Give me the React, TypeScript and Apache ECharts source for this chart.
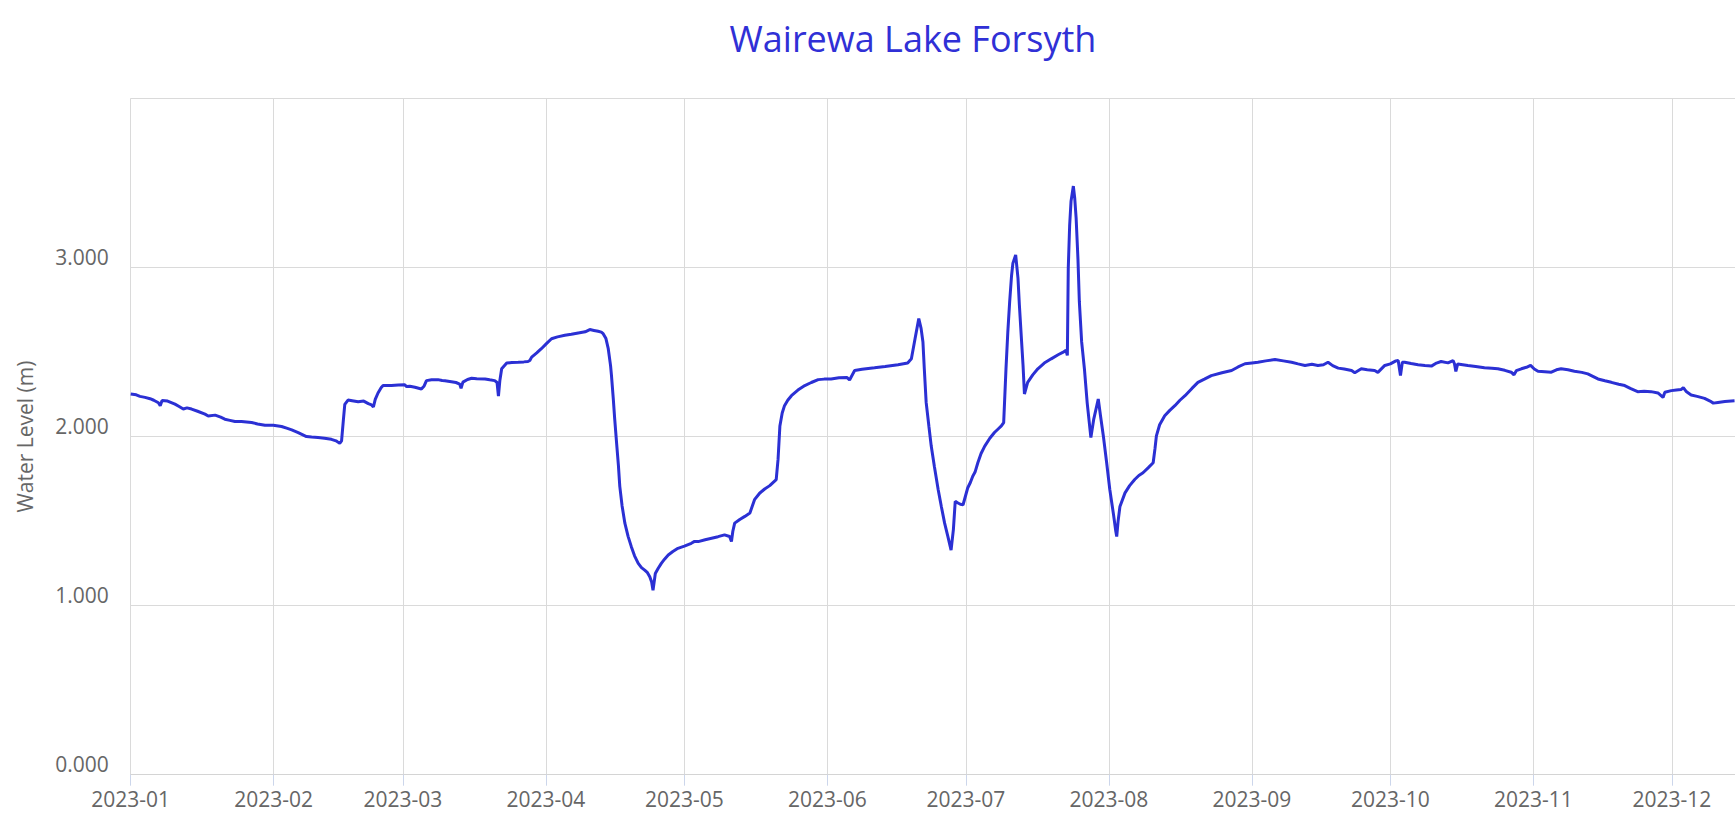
import React, { useEffect, useRef } from "react";
import * as echarts from "echarts";

// Day offsets from 2023-01-01 paired with water level (m).
const janLevels = [
  [0, 2.252], [1.2, 2.247], [2, 2.238], [3.1, 2.232], [4.2, 2.224], [5, 2.215], [6, 2.2], [6.4, 2.183],
  [6.8, 2.214], [8, 2.21], [9.6, 2.192], [10.5, 2.178], [11.4, 2.163], [12.2, 2.17], [13.2, 2.163],
  [14.5, 2.15], [16.1, 2.133], [16.8, 2.122], [18.3, 2.127], [19.5, 2.115], [20.4, 2.103], [21.5, 2.096],
  [22.6, 2.089], [24, 2.09], [26.2, 2.083], [27.5, 2.075], [29.1, 2.067], [30.9, 2.067],
];
const febLevels = [
  [32.7, 2.06], [33.8, 2.05], [34.9, 2.04], [36.3, 2.024], [37.2, 2.012], [38.1, 2.0], [39.2, 1.997],
  [40.6, 1.994], [42, 1.99], [43.5, 1.984], [44.5, 1.975], [45.3, 1.96], [45.7, 1.975], [46.1, 2.1],
  [46.4, 2.19], [47.1, 2.216], [48, 2.212], [49.3, 2.206], [50.5, 2.21], [51.5, 2.195], [52.2, 2.187],
  [52.6, 2.175], [53, 2.22], [53.6, 2.258], [54.3, 2.29], [54.7, 2.302], [56.5, 2.302], [58, 2.305],
];
const marLevels = [
  [59.4, 2.306], [59.8, 2.296], [60.5, 2.298], [61.6, 2.292], [63, 2.282], [63.6, 2.3], [64.1, 2.331],
  [65.2, 2.336], [66.6, 2.337], [67.5, 2.332], [68.1, 2.331], [69.5, 2.325], [70.5, 2.32], [71.3, 2.311],
  [71.6, 2.285], [72, 2.322], [73, 2.338], [73.9, 2.345], [75, 2.342], [76.8, 2.341], [77.8, 2.336],
  [78.9, 2.331], [79.4, 2.32], [79.7, 2.24], [80, 2.33], [80.4, 2.401], [81.5, 2.435], [82.6, 2.438],
  [84, 2.44], [85.2, 2.442], [86.1, 2.444], [86.5, 2.45], [86.9, 2.47], [88, 2.495], [89, 2.52],
];
const aprLevels = [
  [90.1, 2.55], [91.2, 2.579], [92.5, 2.59], [94.1, 2.599], [95.5, 2.605], [97, 2.613], [98.5, 2.62],
  [99.5, 2.633], [100.4, 2.628], [101.3, 2.623], [102, 2.618], [102.4, 2.609], [103, 2.58], [103.5, 2.52],
  [104, 2.42], [104.2, 2.361], [104.6, 2.22], [104.9, 2.103], [105.3, 1.964], [105.7, 1.83], [106, 1.706],
  [106.5, 1.59], [107.1, 1.488], [107.8, 1.41], [108.5, 1.349], [109.2, 1.295], [110, 1.25], [110.7, 1.225],
  [111.4, 1.21], [112, 1.195], [112.5, 1.171], [112.9, 1.14], [113.2, 1.091], [113.5, 1.15], [113.7, 1.19],
  [114.3, 1.22], [115, 1.25], [115.7, 1.275], [116.5, 1.3], [117.5, 1.32], [118.6, 1.339],
];
const mayLevels = [
  [120, 1.352], [121.5, 1.369], [122.2, 1.38], [123, 1.379], [124.5, 1.39], [125.9, 1.399], [127.3, 1.408],
  [128.7, 1.419], [129.8, 1.409], [130.2, 1.379], [130.5, 1.44], [130.9, 1.488], [132, 1.51], [133.1, 1.528],
  [134.2, 1.548], [135.2, 1.627], [136.3, 1.665], [137.4, 1.69], [138.5, 1.71], [139.9, 1.746], [140.3, 1.865],
  [140.7, 2.063], [141.2, 2.14], [141.7, 2.183], [142.4, 2.215], [143.2, 2.242], [144.6, 2.275], [146.1, 2.302],
  [147.5, 2.32], [149, 2.337], [150.3, 2.34],
];
const junLevels = [
  [151.8, 2.341], [153.5, 2.348], [155.2, 2.35], [155.8, 2.335], [156.9, 2.391], [158.5, 2.398], [161.2, 2.407],
  [163.5, 2.415], [166.3, 2.425], [168.4, 2.435], [169.2, 2.46], [170, 2.58], [170.8, 2.698], [171.3, 2.64],
  [171.7, 2.56], [172, 2.4], [172.4, 2.202], [173, 2.06], [173.5, 1.944], [174.2, 1.82], [175, 1.687],
  [175.7, 1.585], [176.4, 1.488], [177.1, 1.41], [177.8, 1.329], [178.3, 1.45], [178.7, 1.617], [179.3, 1.607],
  [179.8, 1.6], [180.4, 1.597],
];
const julLevels = [
  [181.4, 1.696], [182, 1.73], [182.5, 1.766], [183, 1.79], [183.6, 1.845], [184.3, 1.9], [185.1, 1.944],
  [186.2, 1.99], [187.2, 2.024], [188, 2.045], [188.7, 2.063], [189.2, 2.083], [189.7, 2.401], [190.1, 2.62],
  [190.5, 2.798], [190.9, 2.95], [191.2, 3.026], [191.8, 3.075], [192.3, 2.937], [192.6, 2.78], [193, 2.599],
  [193.4, 2.42], [193.7, 2.252], [194.4, 2.321], [195.5, 2.365], [196.6, 2.401], [198, 2.435], [199.5, 2.46],
  [201, 2.484], [202, 2.498], [202.7, 2.51], [203, 2.48], [203.2, 2.996], [203.5, 3.25], [203.8, 3.393],
  [204.3, 3.482], [204.6, 3.41], [204.9, 3.294], [205.3, 3.05], [205.6, 2.798], [206.1, 2.56], [206.7, 2.4],
  [207.3, 2.2], [208.1, 1.994], [208.7, 2.1], [209.7, 2.222], [210.2, 2.12], [210.8, 2.004], [211.5, 1.85],
];
const augLevels = [
  [212.2, 1.687], [213, 1.54], [213.5, 1.44], [213.7, 1.409], [214, 1.5], [214.4, 1.587], [215.5, 1.667],
  [216.5, 1.71], [217.6, 1.746], [218.5, 1.77], [219.4, 1.786], [220.5, 1.815], [221.6, 1.845], [222, 1.93],
  [222.3, 2.004], [223, 2.07], [224.1, 2.123], [225.2, 2.155], [226.3, 2.183], [227.4, 2.215], [228.5, 2.242],
  [230, 2.285], [231.3, 2.321], [232.7, 2.34], [234.2, 2.361], [236.5, 2.378], [238.6, 2.391], [240, 2.412],
  [241.5, 2.431],
];
const sepLevels = [
  [243, 2.436], [244.3, 2.44], [246, 2.448], [248, 2.456], [249.8, 2.448], [251.6, 2.44], [253, 2.43],
  [254.5, 2.421], [256, 2.428], [257.3, 2.421], [258.5, 2.425], [259.5, 2.44], [260.5, 2.42], [261.7, 2.405],
  [263, 2.4], [264.6, 2.391], [265.3, 2.378], [266.7, 2.401], [268, 2.396], [269.6, 2.391], [270.3, 2.38],
  [271.8, 2.421],
];
const octLevels = [
  [273, 2.43], [274.2, 2.448], [274.7, 2.45], [275.2, 2.361], [275.6, 2.44], [276.1, 2.44], [277.5, 2.432],
  [279, 2.425], [280.5, 2.42], [281.9, 2.417], [283, 2.435], [284, 2.444], [285.5, 2.436], [286.6, 2.45],
  [286.9, 2.431], [287.2, 2.385], [287.6, 2.43], [289.8, 2.421], [291.5, 2.415], [293.4, 2.407], [295, 2.405],
  [296.3, 2.401], [297.8, 2.392], [299.2, 2.381], [299.8, 2.365], [300.3, 2.39], [301.4, 2.401], [302.5, 2.41],
  [303.4, 2.421],
];
const novLevels = [
  [304.2, 2.4], [305, 2.387], [306.5, 2.384], [307.9, 2.381], [309, 2.395], [310, 2.401], [311.5, 2.395],
  [312.9, 2.387], [314.5, 2.38], [315.8, 2.371], [317, 2.355], [318, 2.341], [319.5, 2.33], [320.9, 2.321],
  [322.5, 2.31], [323.8, 2.302], [325, 2.285], [326.6, 2.266], [328, 2.268], [329.5, 2.266], [331, 2.258],
  [332.1, 2.232], [332.5, 2.262], [333.9, 2.272],
];
const decLevels = [
  [335, 2.276], [336, 2.278], [336.5, 2.29], [337.2, 2.265], [338.2, 2.246], [339.5, 2.238], [341.1, 2.226],
  [342.3, 2.21], [343, 2.198], [344, 2.202], [345.5, 2.208], [347.6, 2.212],
];

const yTicks = [0, 1, 2, 3, 4];
const TITLE = "Wairewa Lake Forsyth";
const Y_NAME = "Water Level (m)";

const START = new Date(2023, 0, 1).getTime();
const DAY = 86400000;
const X_END_DAYS = 347.7;

export default function App() {
  const ref = useRef<HTMLDivElement>(null);

  useEffect(() => {
    if (!ref.current) return;
    const chart = echarts.init(ref.current, undefined, { renderer: "svg" });
    const all = [
      ...janLevels, ...febLevels, ...marLevels, ...aprLevels, ...mayLevels, ...junLevels,
      ...julLevels, ...augLevels, ...sepLevels, ...octLevels, ...novLevels, ...decLevels,
    ];
    const data = all.map(([d, v]) => [START + d * DAY, v]);
    const font = "'Open Sans', 'Noto Sans', sans-serif";

    chart.setOption({
      animation: false,
      backgroundColor: "#ffffff",
      title: {
        text: TITLE,
        left: 908,
        textAlign: "center",
        top: 15,
        textStyle: {
          color: "#3030d6",
          fontSize: 36,
          fontWeight: "normal",
          fontFamily: font,
        },
      },
      grid: { left: 130.7, top: 98.5, right: 0, bottom: 54.3 },
      xAxis: {
        type: "time",
        min: START,
        max: START + X_END_DAYS * DAY,
        splitNumber: 12,
        minInterval: 28 * DAY,
        maxInterval: 31 * DAY,
        axisLine: { show: true, lineStyle: { color: "#d4d4d4", width: 1 } },
        axisTick: { show: true, length: 11, lineStyle: { color: "#ccd6eb" } },
        splitLine: { show: true, lineStyle: { color: "#dadada", width: 1 } },
        axisLabel: {
          formatter: "{yyyy}-{MM}",
          color: "#666666",
          fontSize: 21,
          fontFamily: font,
          margin: 14,
          showMaxLabel: false,
        },
      },
      yAxis: {
        type: "value",
        min: yTicks[0],
        max: yTicks[yTicks.length - 1],
        interval: 1,
        name: Y_NAME,
        nameLocation: "middle",
        nameGap: 95,
        nameTextStyle: { color: "#666666", fontSize: 21, fontFamily: font },
        axisLine: { show: false },
        axisTick: { show: false },
        splitLine: { show: true, lineStyle: { color: "#dadada", width: 1 } },
        axisLabel: {
          formatter: (v: number) => v.toFixed(3),
          color: "#666666",
          fontSize: 21,
          fontFamily: font,
          margin: 22,
          verticalAlign: "bottom",
          showMaxLabel: false,
        },
      },
      series: [
        {
          type: "line",
          data,
          showSymbol: false,
          smooth: false,
          lineStyle: { color: "#2b30d4", width: 3 },
          itemStyle: { color: "#2b30d4" },
        },
      ],
    });

    return () => chart.dispose();
  }, []);

  return (
    <div
      ref={ref}
      style={{ position: "absolute", left: 0, top: 0, width: 1735, height: 829 }}
    />
  );
}
